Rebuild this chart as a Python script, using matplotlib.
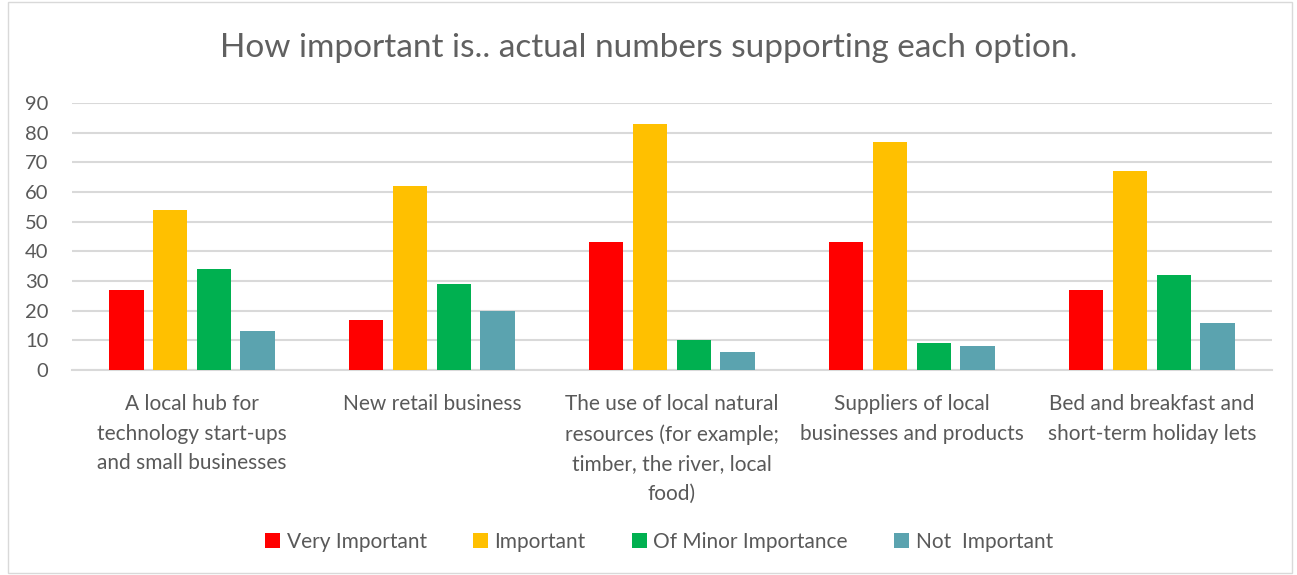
import numpy as np
import matplotlib.pyplot as plt
from matplotlib.patches import Rectangle

plt.rcParams["font.family"] = ["Lato", "DejaVu Sans"]

categories = [
    "A local hub for\ntechnology start-ups\nand small businesses",
    "New retail business",
    "The use of local natural\nresources (for example;\ntimber, the river, local\nfood)",
    "Suppliers of local\nbusinesses and products",
    "Bed and breakfast and\nshort-term holiday lets",
]
very_important = [27, 17, 43, 43, 27]
important = [54, 62, 83, 77, 67]
minor = [34, 29, 10, 9, 32]
not_important = [13, 20, 6, 8, 16]

series = [
    ("Very Important", very_important, "#FF0000"),
    ("Important", important, "#FFC000"),
    ("Of Minor Importance", minor, "#00B050"),
    ("Not  Important", not_important, "#5BA3AF"),
]

txt = "#595959"
fig = plt.figure(figsize=(12.97, 5.75), dpi=100)
ax = fig.add_axes([0.0555, 0.3565, 0.9252, 0.4644])

x = np.arange(len(categories))
w = 0.142
step = 0.182
for i, (name, vals, col) in enumerate(series):
    ax.bar(x + (i - 1.5) * step, vals, width=w, color=col, label=name, zorder=3)

ax.set_xlim(-0.5, len(categories) - 0.5)
ax.set_ylim(0, 90)
ax.set_yticks(range(0, 91, 10))
ax.yaxis.grid(True, color="#D9D9D9", lw=1.5, zorder=0)
for s in ["top", "right", "left"]:
    ax.spines[s].set_visible(False)
ax.spines["bottom"].set_color("#D9D9D9")
ax.spines["bottom"].set_linewidth(1.5)
ax.set_xticks(x)
ax.set_xticklabels(categories, linespacing=1.62)
ax.tick_params(axis="y", length=0, pad=17, labelsize=14.5, labelcolor=txt)
ax.tick_params(axis="x", length=0, pad=17, labelsize=15, labelcolor=txt)
for lab in ax.get_xticklabels():
    lab.set_verticalalignment("top")

fig.text(0.5, 0.917, "How important is.. actual numbers supporting each option.",
         ha="center", va="center", fontsize=24, color="#606060")

handles, labels = ax.get_legend_handles_labels()
fig.legend(handles, labels, loc="center", bbox_to_anchor=(0.508, 0.058), ncol=4,
           frameon=False, fontsize=15, labelcolor=txt, handlelength=0.75,
           handleheight=0.75, handletextpad=0.3, columnspacing=2.2)

fig.patches.append(Rectangle((0.006, 0.003), 0.99, 0.994, transform=fig.transFigure,
                             fill=False, edgecolor="#D9D9D9", lw=1))

fig.savefig("out.png", dpi=100)
